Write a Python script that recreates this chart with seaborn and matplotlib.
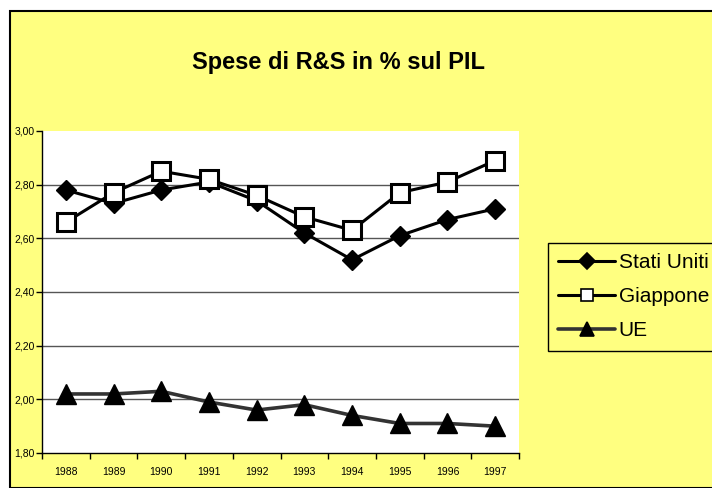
import matplotlib
matplotlib.use("Agg")
import matplotlib.pyplot as plt
import seaborn as sns
import pandas as pd
from matplotlib.patches import Rectangle
from matplotlib.ticker import FuncFormatter, FixedLocator, NullFormatter

years = ["1988", "1989", "1990", "1991", "1992", "1993", "1994", "1995", "1996", "1997"]
stati_uniti = [2.78, 2.73, 2.78, 2.81, 2.74, 2.62, 2.52, 2.61, 2.67, 2.71]
giappone = [2.66, 2.77, 2.85, 2.82, 2.76, 2.68, 2.63, 2.77, 2.81, 2.89]
ue = [2.02, 2.02, 2.03, 1.99, 1.96, 1.98, 1.94, 1.91, 1.91, 1.90]
series_names = ["Stati Uniti", "Giappone", "UE"]
title = "Spese di R&S in % sul PIL"

sns.set_theme(style="white")
plt.rcParams["font.family"] = ["Liberation Sans", "DejaVu Sans"]
plt.rcParams["text.color"] = "black"

yellow = "#FFFF80"
fig = plt.figure(figsize=(7.12, 4.88), dpi=100)
fig.patch.set_facecolor("white")
bg = Rectangle((10 / 712, 0), 1.0, (488 - 11) / 488, transform=fig.transFigure,
               facecolor=yellow, edgecolor="black", lw=1.5, zorder=-10)
fig.patches.append(bg)

ax = fig.add_axes([42 / 712, (488 - 453) / 488, 477 / 712, 322 / 488])
ax.set_facecolor("white")

df = pd.DataFrame({"x": list(range(len(years))) * 3,
                   "v": stati_uniti + giappone + ue,
                   "s": [series_names[0]] * 10 + [series_names[1]] * 10 + [series_names[2]] * 10})

styles = {
    "Stati Uniti": dict(color="black", marker="D", markersize=10.5, mfc="black", mec="black", lw=2.2),
    "Giappone": dict(color="black", marker="s", markersize=13, mfc="white", mec="black", mew=2.2, lw=2.2),
    "UE": dict(color="#333333", marker="^", markersize=15, mfc="black", mec="black", lw=2.6),
}
for name in series_names:
    sub = df[df["s"] == name]
    st = styles[name]
    sns.lineplot(data=sub, x="x", y="v", ax=ax, color=st["color"], lw=st["lw"],
                 marker=st["marker"], markersize=st["markersize"],
                 markerfacecolor=st["mfc"], markeredgecolor=st["mec"],
                 markeredgewidth=st.get("mew", 1), label=name, legend=False, zorder=3)

ax.set_xlim(-0.5, len(years) - 0.5)
ax.set_ylim(1.8, 3.0)
ax.set_yticks([1.8, 2.0, 2.2, 2.4, 2.6, 2.8, 3.0])
ax.yaxis.set_major_formatter(FuncFormatter(lambda v, p: f"{v:.2f}".replace(".", ",")))
for yv in [2.0, 2.2, 2.4, 2.6, 2.8]:
    ax.axhline(yv, color="#555555", lw=1.0, zorder=1)

ax.xaxis.set_major_locator(FixedLocator([i - 0.5 for i in range(len(years) + 1)]))
ax.xaxis.set_major_formatter(NullFormatter())
ax.xaxis.set_minor_locator(FixedLocator(list(range(len(years)))))
ax.set_xticklabels(years, minor=True)
ax.tick_params(axis="x", which="major", direction="out", length=4, width=1, color="black", bottom=True)
ax.tick_params(axis="x", which="minor", length=0, labelsize=7.5, pad=10, labelcolor="black")
ax.tick_params(axis="y", direction="out", length=4, width=1, color="black", left=True, labelsize=7.5, pad=1, labelcolor="black")
ax.set_xlabel("")
ax.set_ylabel("")
for s in ["top", "right"]:
    ax.spines[s].set_visible(False)
for s in ["left", "bottom"]:
    ax.spines[s].set_color("black")
    ax.spines[s].set_linewidth(1.0)

fig.text(339 / 712, 1 - 62 / 488, title, ha="center", va="center", fontsize=17,
         fontweight="bold", color="black")

handles, labels = ax.get_legend_handles_labels()
leg = fig.legend(handles, labels, loc="upper left", bbox_to_anchor=(548 / 712, 1 - 243 / 488),
                 frameon=True, fancybox=False, edgecolor="black", facecolor=yellow, framealpha=1,
                 fontsize=15, handlelength=2.7, handletextpad=0.2, borderpad=0.5, labelspacing=0.72,
                 borderaxespad=0, labelcolor="black")
leg.get_frame().set_linewidth(1.0)
leg_sizes = [8, 8, 10]
for h, ms in zip(leg.legend_handles, leg_sizes):
    h.set_markersize(ms)
    h.set_markeredgewidth(1.2)

fig.savefig("out.png", dpi=100, facecolor=fig.get_facecolor())
